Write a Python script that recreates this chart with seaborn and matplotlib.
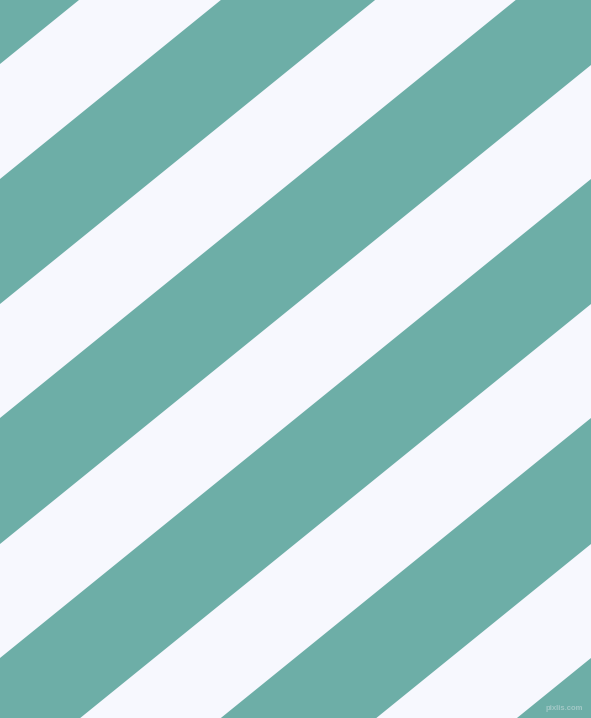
import matplotlib
matplotlib.use("Agg")
import matplotlib.pyplot as plt
import numpy as np
import seaborn as sns

# canvas in pixels
width, height = 591, 718

# teal bands: where each band's upper and lower edge meets the left border (px from top)
band_top = [-61, 179, 418, 658, 897, 1137]
band_bottom = [64, 304, 544, 783, 1023, 1262]
# how far an edge climbs from the left border to the right border
edge_climb = 479

teal = "#6DAEA7"
ghost_white = "#F7F8FE"

sns.set_theme(style="white")

fig = plt.figure(figsize=(width / 100, height / 100), dpi=100)
ax = fig.add_axes([0, 0, 1, 1])
ax.set_facecolor(ghost_white)
fig.patch.set_facecolor(ghost_white)

x = np.array([0, width])
drop = x * edge_climb / width
for top, bottom in zip(band_top, band_bottom):
    ax.fill_between(x, top - drop, bottom - drop, color=teal, linewidth=0)

# faint watermark in the corner
ax.text(width - 8, height - 9, "pixlis.com", ha="right", va="center",
        fontsize=5.6, fontweight="bold", color="#A3C9C7", family="Liberation Sans")

ax.set_xlim(0, width)
ax.set_ylim(height, 0)
ax.axis("off")

fig.savefig("out.png", dpi=100, facecolor=ghost_white)
